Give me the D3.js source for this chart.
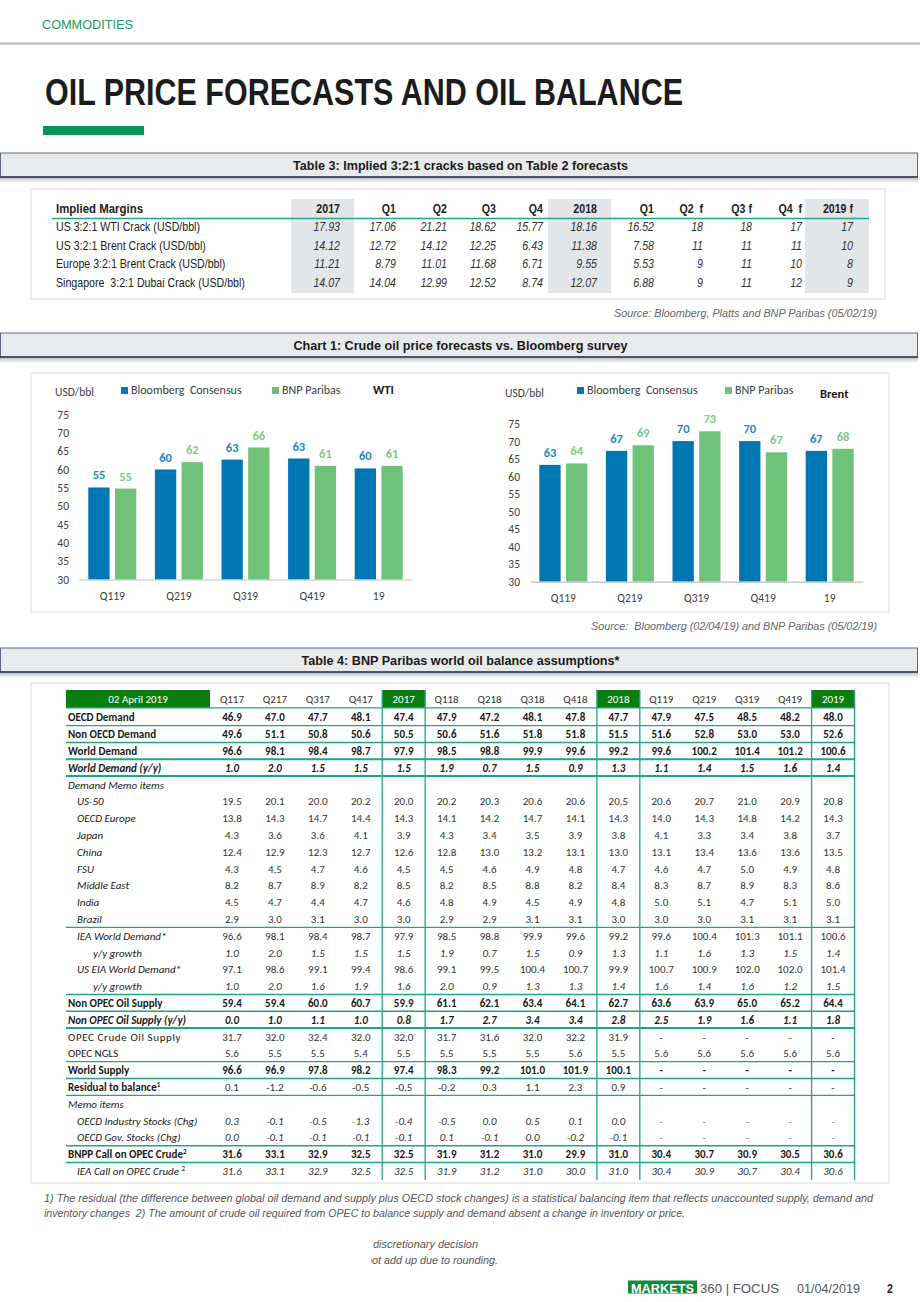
<!DOCTYPE html>
<html><head><meta charset="utf-8">
<script src="https://cdn.jsdelivr.net/npm/d3@7"></script>
<style>body{margin:0;background:#fff} svg{display:block}</style>
</head><body><svg id="page" width="920" height="1302"></svg>
<script>
// ---------------- DATA ----------------
// Table 3
const t3Columns = ["2017","Q1","Q2","Q3","Q4","2018","Q1","Q2  f","Q3 f","Q4  f","2019 f"];
const t3RowLabels = ["US 3:2:1 WTI Crack (USD/bbl)","US 3:2:1 Brent Crack (USD/bbl)","Europe 3:2:1 Brent Crack (USD/bbl)","Singapore  3:2:1 Dubai Crack (USD/bbl)"];
const usWtiCrack    = [17.93,17.06,21.21,18.62,15.77,18.16,16.52,18,18,17,17];
const usBrentCrack  = [14.12,12.72,14.12,12.25,6.43,11.38,7.58,11,11,11,10];
const euBrentCrack  = [11.21,8.79,11.01,11.68,6.71,9.55,5.53,9,11,10,8];
const sgDubaiCrack  = [14.07,14.04,12.99,12.52,8.74,12.07,6.88,9,11,12,9];

// Chart 1
const quarters = ["Q119","Q219","Q319","Q419","19"];
const seriesNames = ["Bloomberg  Consensus","BNP Paribas"];
const wtiBloomberg   = [55.1,60.0,62.7,63.0,60.3];
const wtiBNP         = [54.8,62.0,66.0,61.0,61.0];
const brentBloomberg = [63.4,67.4,70.2,70.2,67.4];
const brentBNP       = [63.8,69.0,73.0,67.0,68.0];
const yTicks = [30,35,40,45,50,55,60,65,70,75];

// Table 4
const t4Columns = ["Q117","Q217","Q317","Q417","2017","Q118","Q218","Q318","Q418","2018","Q119","Q219","Q319","Q419","2019"];
const t4Years = ["2017","2018","2019"];
const oecdDemand      = [46.9,47.0,47.7,48.1,47.4,47.9,47.2,48.1,47.8,47.7,47.9,47.5,48.5,48.2,48.0];
const nonOecdDemand   = [49.6,51.1,50.8,50.6,50.5,50.6,51.6,51.8,51.8,51.5,51.6,52.8,53.0,53.0,52.6];
const worldDemand     = [96.6,98.1,98.4,98.7,97.9,98.5,98.8,99.9,99.6,99.2,99.6,100.2,101.4,101.2,100.6];
const worldDemandYY   = [1.0,2.0,1.5,1.5,1.5,1.9,0.7,1.5,0.9,1.3,1.1,1.4,1.5,1.6,1.4];
const us50            = [19.5,20.1,20.0,20.2,20.0,20.2,20.3,20.6,20.6,20.5,20.6,20.7,21.0,20.9,20.8];
const oecdEurope      = [13.8,14.3,14.7,14.4,14.3,14.1,14.2,14.7,14.1,14.3,14.0,14.3,14.8,14.2,14.3];
const japan           = [4.3,3.6,3.6,4.1,3.9,4.3,3.4,3.5,3.9,3.8,4.1,3.3,3.4,3.8,3.7];
const china           = [12.4,12.9,12.3,12.7,12.6,12.8,13.0,13.2,13.1,13.0,13.1,13.4,13.6,13.6,13.5];
const fsu             = [4.3,4.5,4.7,4.6,4.5,4.5,4.6,4.9,4.8,4.7,4.6,4.7,5.0,4.9,4.8];
const middleEast      = [8.2,8.7,8.9,8.2,8.5,8.2,8.5,8.8,8.2,8.4,8.3,8.7,8.9,8.3,8.6];
const india           = [4.5,4.7,4.4,4.7,4.6,4.8,4.9,4.5,4.9,4.8,5.0,5.1,4.7,5.1,5.0];
const brazil          = [2.9,3.0,3.1,3.0,3.0,2.9,2.9,3.1,3.1,3.0,3.0,3.0,3.1,3.1,3.1];
const ieaDemand       = [96.6,98.1,98.4,98.7,97.9,98.5,98.8,99.9,99.6,99.2,99.6,100.4,101.3,101.1,100.6];
const ieaGrowth       = [1.0,2.0,1.5,1.5,1.5,1.9,0.7,1.5,0.9,1.3,1.1,1.6,1.3,1.5,1.4];
const eiaDemand       = [97.1,98.6,99.1,99.4,98.6,99.1,99.5,100.4,100.7,99.9,100.7,100.9,102.0,102.0,101.4];
const eiaGrowth       = [1.0,2.0,1.6,1.9,1.6,2.0,0.9,1.3,1.3,1.4,1.6,1.4,1.6,1.2,1.5];
const nonOpecSupply   = [59.4,59.4,60.0,60.7,59.9,61.1,62.1,63.4,64.1,62.7,63.6,63.9,65.0,65.2,64.4];
const nonOpecSupplyYY = [0.0,1.0,1.1,1.0,0.8,1.7,2.7,3.4,3.4,2.8,2.5,1.9,1.6,1.1,1.8];
const opecCrude       = [31.7,32.0,32.4,32.0,32.0,31.7,31.6,32.0,32.2,31.9,null,null,null,null,null];
const opecNgls        = [5.6,5.5,5.5,5.4,5.5,5.5,5.5,5.5,5.6,5.5,5.6,5.6,5.6,5.6,5.6];
const worldSupply     = [96.6,96.9,97.8,98.2,97.4,98.3,99.2,101.0,101.9,100.1,null,null,null,null,null];
const residual        = [0.1,-1.2,-0.6,-0.5,-0.5,-0.2,0.3,1.1,2.3,0.9,null,null,null,null,null];
const oecdIndStocks   = [0.3,-0.1,-0.5,-1.3,-0.4,-0.5,0.0,0.5,0.1,0.0,null,null,null,null,null];
const oecdGovStocks   = [0.0,-0.1,-0.1,-0.1,-0.1,0.1,-0.1,0.0,-0.2,-0.1,null,null,null,null,null];
const bnppCallOpec    = [31.6,33.1,32.9,32.5,32.5,31.9,31.2,31.0,29.9,31.0,30.4,30.7,30.9,30.5,30.6];
const ieaCallOpec     = [31.6,33.1,32.9,32.5,32.5,31.9,31.2,31.0,30.0,31.0,30.4,30.9,30.7,30.4,30.6];

const t4RowLabels = ["OECD Demand","Non OECD Demand","World Demand","World Demand (y/y)","Demand Memo items",
  "US-50","OECD Europe","Japan","China","FSU","Middle East","India","Brazil",
  "IEA World Demand*","y/y growth","US EIA World Demand*","y/y growth",
  "Non OPEC Oil Supply","Non OPEC Oil Supply (y/y)","OPEC Crude Oil Supply","OPEC NGLS","World Supply",
  "Residual to balance","Memo items","OECD Industry Stocks (Chg)","OECD Gov. Stocks (Chg)",
  "BNPP Call on OPEC Crude","IEA Call on OPEC Crude "];
const t4RowValues = [oecdDemand,nonOecdDemand,worldDemand,worldDemandYY,null,
  us50,oecdEurope,japan,china,fsu,middleEast,india,brazil,
  ieaDemand,ieaGrowth,eiaDemand,eiaGrowth,
  nonOpecSupply,nonOpecSupplyYY,opecCrude,opecNgls,worldSupply,
  residual,null,oecdIndStocks,oecdGovStocks,bnppCallOpec,ieaCallOpec];
const t4Superscripts = {22:"1",26:"2",27:"2"};

// ---------------- STYLE / LAYOUT ----------------
const NARROW = "'Liberation Sans Narrow','Arial Narrow','Liberation Sans',Arial,sans-serif";
const CAL = "Carlito, Lato, 'Open Sans', sans-serif";
const BLUE = "#0077b3", GREEN = "#70c17a", BLUE_LBL = "#1f86c6", GREEN_LBL = "#7ec985";
const TEAL = "#1fa68a", DKGREEN = "#0b7e12";

const svg = d3.select("#page");
function txt(x, y, s, o = {}) {
  const fam = o.family || NARROW;
  const t = svg.append("text").attr("x", x).attr("y", y).text(s)
    .attr("font-family", fam).attr("font-size", o.size || 12)
    .attr("fill", o.fill || "#222");
  if (o.weight) t.attr("font-weight", o.weight);
  if (o.style) t.attr("font-style", o.style);
  if (o.anchor) t.attr("text-anchor", o.anchor);
  if (o.ls) t.attr("letter-spacing", o.ls);
  if (o.pre) t.attr("xml:space", "preserve");
  if (o.len) t.attr("textLength", o.len).attr("lengthAdjust", "spacingAndGlyphs");
  else if (fam === NARROW) {
    const w = t.node().getComputedTextLength();
    if (w > 0) t.attr("textLength", w * 0.885).attr("lengthAdjust", "spacingAndGlyphs");
  }
  return t;
}

// shadow gradient
const defs = svg.append("defs");
const g = defs.append("linearGradient").attr("id","shadow").attr("x1",0).attr("y1",0).attr("x2",0).attr("y2",1);
g.append("stop").attr("offset","0%").attr("stop-color","#000").attr("stop-opacity",0.28);
g.append("stop").attr("offset","100%").attr("stop-color","#000").attr("stop-opacity",0);

// ---------------- HEADER ----------------
txt(42, 29, "COMMODITIES", {size: 13.5, fill: "#1d9a5c", len: 91});
svg.append("line").attr("x1",0).attr("x2",920).attr("y1",43.5).attr("y2",43.5).attr("stroke","#b3b3b3").attr("stroke-width",2);
txt(45, 105, "OIL PRICE FORECASTS AND OIL BALANCE", {size: 36, weight: "bold", fill: "#1c1c1c", len: 638});
svg.append("rect").attr("x",43).attr("y",126).attr("width",101).attr("height",9).attr("fill","#00935b");

function sectionBar(top, title, len) {
  svg.append("rect").attr("x",0).attr("y",top+24).attr("width",918).attr("height",6).attr("fill","url(#shadow)");
  svg.append("rect").attr("x",0.5).attr("y",top).attr("width",917).attr("height",24).attr("fill","#e9eaec")
    .attr("stroke","#5a6786").attr("stroke-width",1);
  svg.append("line").attr("x1",0).attr("x2",918).attr("y1",top+24).attr("y2",top+24).attr("stroke","#2e3a56").attr("stroke-width",1.5);
  txt(460.5, top+17, title, {size: 13.5, weight: "bold", anchor: "middle", fill: "#1a1a1a", len});
}

// ---------------- TABLE 3 ----------------
sectionBar(153, "Table 3: Implied 3:2:1 cracks based on Table 2 forecasts", 335);
svg.append("rect").attr("x",31).attr("y",189).attr("width",854).attr("height",110).attr("fill","none").attr("stroke","#dadada");
const t3ColRight = [340,396,447,496,543,597,654,703,752,802,853];
const t3Shade = [[0,291,354],[5,548,611],[10,805,869]];
t3Shade.forEach(s => svg.append("rect").attr("x",s[1]).attr("y",199).attr("width",s[2]-s[1]).attr("height",94).attr("fill","#e3e7ea"));
txt(56, 213, "Implied Margins", {size: 12, weight: "bold", len: 87});
t3Columns.forEach((c,i) => txt(t3ColRight[i], 213, c, {size: 12, weight: "bold", anchor: "end", pre: true}));
svg.append("line").attr("x1",52).attr("x2",869).attr("y1",218.5).attr("y2",218.5).attr("stroke",TEAL).attr("stroke-width",1.6);
const t3Data = [usWtiCrack, usBrentCrack, euBrentCrack, sgDubaiCrack];
t3RowLabels.forEach((lab, r) => {
  const y = 231 + r*18.7;
  txt(56, y, lab, {size: 12, pre: true});
  t3Data[r].forEach((v,i) => txt(t3ColRight[i], y, String(v), {size: 12, style: "italic", anchor: "end", fill: "#333"}));
});
txt(877, 317, "Source: Bloomberg, Platts and BNP Paribas (05/02/19)", {size: 10.5, style: "italic", anchor: "end", fill: "#666", len: 263});

// ---------------- CHART 1 ----------------
sectionBar(333, "Chart 1: Crude oil price forecasts vs. Bloomberg survey", 334);
svg.append("rect").attr("x",31).attr("y",373).attr("width",858).attr("height",239).attr("fill","none").attr("stroke","#dcdcdc");

function drawChart(cfg) {
  const y = d3.scaleLinear().domain([30,75]).range([cfg.y0, cfg.y1]);
  const x0 = d3.scaleBand().domain(quarters).range(cfg.xr).padding(0);
  const inset = (x0.bandwidth() - 48) / 2;
  const x1 = d3.scaleBand().domain([0,1]).range([inset, inset + 48]).paddingInner(0.2);
  const gc = svg.append("g");
  const ya = gc.append("g").attr("transform", `translate(${cfg.yaxX},0)`)
    .call(d3.axisLeft(y).tickValues(yTicks).tickSize(0).tickPadding(0));
  ya.select(".domain").remove();
  ya.selectAll("text").attr("font-family", CAL).attr("font-size", 11.5).attr("fill", "#404040");
  const series = [cfg.a, cfg.b];
  const colors = [BLUE, GREEN], lcolors = [BLUE_LBL, GREEN_LBL];
  series.forEach((arr, si) => {
    gc.selectAll(null).data(arr).enter().append("rect")
      .attr("x", (d,i) => x0(quarters[i]) + x1(si))
      .attr("width", x1.bandwidth())
      .attr("y", d => y(d))
      .attr("height", d => y(30) - y(d))
      .attr("fill", colors[si]);
    gc.selectAll(null).data(arr).enter().append("text")
      .attr("x", (d,i) => x0(quarters[i]) + x1(si) + x1.bandwidth()/2)
      .attr("y", d => y(d) - 8)
      .attr("text-anchor","middle").attr("font-family", CAL).attr("font-weight","bold")
      .attr("font-size", 12.5).attr("fill", lcolors[si])
      .text(d => Math.round(d));
  });
  const xa = gc.append("g").attr("transform", `translate(0,${y(30)})`)
    .call(d3.axisBottom(x0).tickSize(0).tickPadding(12));
  xa.select(".domain").attr("stroke", "#bfbfbf").attr("stroke-width", 1.2);
  xa.selectAll("text").attr("font-family", CAL).attr("font-size", 11.5).attr("fill", "#404040");
  txt(cfg.unitX, cfg.unitY, "USD/bbl", {family: CAL, size: 11.5, fill: "#404040"});
  cfg.leg.forEach((lx, i) => {
    svg.append("rect").attr("x", lx).attr("y", cfg.legY - 7).attr("width", 7).attr("height", 7).attr("fill", colors[i]);
    txt(lx + 10, cfg.legY, seriesNames[i], {family: CAL, size: 12, fill: "#404040", pre: true});
  });
  txt(cfg.titleX, cfg.titleY, cfg.title, {family: CAL, size: 12.5, weight: "bold", fill: "#1a1a1a"});
}
drawChart({a: wtiBloomberg, b: wtiBNP, xr: [79,412], y0: 579.5, y1: 414.5, yaxX: 69,
  unitX: 55, unitY: 396, leg: [121,272], legY: 394, title: "WTI", titleX: 373, titleY: 394});
drawChart({a: brentBloomberg, b: brentBNP, xr: [530,863], y0: 581.7, y1: 424.3, yaxX: 520,
  unitX: 505, unitY: 397, leg: [577,725], legY: 394, title: "Brent", titleX: 820, titleY: 398});
txt(877, 630, "Source:  Bloomberg (02/04/19) and BNP Paribas (05/02/19)", {size: 10.5, style: "italic", anchor: "end", fill: "#666", len: 286, pre: true});

// ---------------- TABLE 4 ----------------
sectionBar(648, "Table 4: BNP Paribas world oil balance assumptions*", 318);
svg.append("rect").attr("x",31).attr("y",683).attr("width",858).attr("height",500).attr("fill","none").attr("stroke","#dcdcdc");

const cx = d3.scaleBand().domain(t4Columns).range([210.5, 854.5]);
const rowY = i => 717.5 + i * 16.8;
const fmt = v => v.toFixed(1);
const B = "bold", I = "italic", N = "normal";
// [labelIndent, labelWeight, labelStyle, valueWeight, valueStyle]
const rowStyle = [
  [0,B,N,B,N],[0,B,N,B,N],[0,B,N,B,N],[0,B,I,B,I],[0,N,I,N,N],
  [1,N,I,N,N],[1,N,I,N,N],[1,N,I,N,N],[1,N,I,N,N],[1,N,I,N,N],[1,N,I,N,N],[1,N,I,N,N],[1,N,I,N,N],
  [1,N,I,N,N],[2,N,I,N,I],[1,N,I,N,N],[2,N,I,N,I],
  [0,B,N,B,N],[0,B,I,B,I],[0,N,N,N,N],[0,N,N,N,N],[0,B,N,B,N],
  [0,B,N,N,N],[0,N,I,N,N],[1,N,I,N,I],[1,N,I,N,I],[0,B,N,B,N],[1,N,I,N,I]];
const indentX = [68, 77, 93];
const lineAfter = {0:1.3,1:1.3,2:2,3:2,12:1.3,16:1.6,17:1.6,18:2,20:1.3,21:1.3,22:1.3,25:1.6,26:1.6};

svg.append("rect").attr("x",66).attr("y",690).attr("width",144).attr("height",18).attr("fill",DKGREEN);
txt(138, 703, "02 April 2019", {family: CAL, size: 11, anchor: "middle", fill: "#fff"});
t4Years.forEach(yv => svg.append("rect").attr("x", cx(yv)).attr("y",690).attr("width",cx.bandwidth()).attr("height",18).attr("fill",DKGREEN));
t4Columns.forEach(c => txt(cx(c) + cx.bandwidth()/2, 703, c, {family: CAL, size: 11, anchor: "middle",
  fill: t4Years.includes(c) ? "#fff" : "#333"}));

svg.append("line").attr("x1",66).attr("x2",854.5).attr("y1",707.8).attr("y2",707.8).attr("stroke",TEAL).attr("stroke-width",1.3);
Object.entries(lineAfter).forEach(([i,w]) => {
  const yy = rowY(+i) + 8.2;
  svg.append("line").attr("x1",66).attr("x2",854.5).attr("y1",yy).attr("y2",yy).attr("stroke",TEAL).attr("stroke-width",w);
});
t4Years.forEach(yv => {
  [cx(yv), cx(yv) + cx.bandwidth()].forEach(xx => {
    svg.append("line").attr("x1",xx).attr("x2",xx).attr("y1",690).attr("y2",1180).attr("stroke",TEAL).attr("stroke-width",1.3);
  });
});

t4RowLabels.forEach((lab, r) => {
  const st = rowStyle[r];
  const yb = rowY(r) + 3.9;
  const t = txt(indentX[st[0]], yb, lab, {family: CAL, size: 11, weight: st[1], style: st[2], fill: "#1a1a1a",
    ls: r === 19 ? 0.6 : null, pre: true});
  if (t4Superscripts[r]) t.append("tspan").attr("font-size", 7).attr("dy", -4).attr("font-style", "normal").text(t4Superscripts[r]);
  const vals = t4RowValues[r];
  if (!vals) return;
  vals.forEach((v, i) => {
    txt(cx(t4Columns[i]) + cx.bandwidth()/2, yb, v === null ? "-" : fmt(v),
      {family: CAL, size: 11, anchor: "middle", weight: st[3], style: st[4], fill: st[3] === B ? "#1a1a1a" : "#333"});
  });
});

// ---------------- FOOTNOTES / FOOTER ----------------
txt(44, 1202, "1) The residual (the difference between global oil demand and supply plus OECD stock changes) is a statistical balancing item that reflects unaccounted supply, demand and",
  {size: 10.5, style: "italic", fill: "#555", len: 829});
txt(44, 1217, "inventory changes  2) The amount of crude oil required from OPEC to balance supply and demand absent a change in inventory or price.",
  {size: 10.5, style: "italic", fill: "#555", len: 641, pre: true});
txt(373, 1248, "discretionary decision", {size: 10, style: "italic", fill: "#555", len: 105});
defs.append("clipPath").attr("id","clipR").append("rect").attr("x",371).attr("y",1240).attr("width",200).attr("height",30);
txt(366, 1264, "not add up due to rounding.", {size: 10, style: "italic", fill: "#555", len: 132}).attr("clip-path","url(#clipR)");

svg.append("rect").attr("x",628).attr("y",1280.5).attr("width",69).attr("height",13).attr("fill","#11893f");
txt(631, 1292.5, "MARKETS", {size: 13, weight: "bold", fill: "#fff", len: 63});
txt(700, 1292.5, "360 | FOCUS", {size: 13, fill: "#555", len: 79});
txt(797, 1292.5, "01/04/2019", {size: 12, fill: "#555", len: 63});
txt(887, 1292.5, "2", {size: 12, weight: "bold", fill: "#222"});
</script></body></html>
